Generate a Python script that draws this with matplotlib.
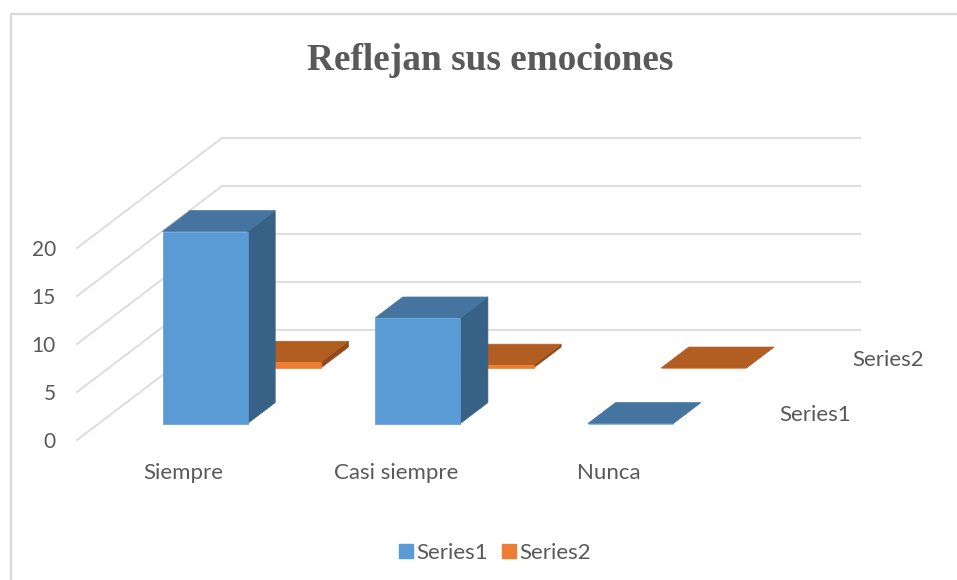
import matplotlib
matplotlib.use('Agg')
import matplotlib.pyplot as plt
from matplotlib.patches import Patch, Polygon

# Data
categories = ['Siempre', 'Casi siempre', 'Nunca']
series_names = ['Series1', 'Series2']
series1 = [20, 11, 0]
series2 = [0.6, 0.3, 0]
y_ticks = [0, 5, 10, 15, 20]

# Colours: front, top, side
blue = ('#5B9BD5', '#44749F', '#376286')
orange = ('#ED7D31', '#B25D22', '#8F4B1C')
grid_col = '#DEDEDE'
text_col = '#595959'
sans = ['Lato', 'DejaVu Sans']

# Oblique projection in figure pixels
X0, Y0 = 77, 440
CAT_W = 212.7
UNIT = 9.6
DX, DY = 145, -110
BAR_OFF, BAR_W = 0.30, 0.40
ROWS = [(0.15, 0.34), (0.655, 0.845)]


def proj(cat, val, depth):
    return (X0 + cat * CAT_W + depth * DX, Y0 - val * UNIT + depth * DY)


def draw_bar(ax, i, val, row, cols):
    x0, x1 = i + BAR_OFF, i + BAR_OFF + BAR_W
    d0, d1 = ROWS[row]
    front = [proj(x0, 0, d0), proj(x1, 0, d0), proj(x1, val, d0), proj(x0, val, d0)]
    side = [proj(x1, 0, d0), proj(x1, 0, d1), proj(x1, val, d1), proj(x1, val, d0)]
    top = [proj(x0, val, d0), proj(x1, val, d0), proj(x1, val, d1), proj(x0, val, d1)]
    for pts, col in [(side, cols[2]), (top, cols[1]), (front, cols[0])]:
        ax.add_patch(Polygon(pts, closed=True, facecolor=col, edgecolor=col, lw=0.5, zorder=3))


fig = plt.figure(figsize=(9.57, 5.8), dpi=100)
ax = fig.add_axes([0, 0, 1, 1])
ax.set_xlim(0, 957)
ax.set_ylim(580, 0)
ax.axis('off')

# chart border (only top and left are visible)
ax.plot([10.5, 10.5, 957], [580, 14, 14], color='#D9D9D9', lw=1.6)

# gridlines on side wall and back wall
for t in y_ticks:
    a = proj(0, t, 0)
    b = proj(0, t, 1)
    c = proj(3, t, 1)
    ax.plot([a[0], b[0], c[0]], [a[1], b[1], c[1]], color=grid_col, lw=1.5)
    ax.text(a[0] - 21, a[1] + 2, str(t), ha='right', va='center', color=text_col, fontsize=15, family=sans)

# back row first so the front row sits over it
for i, v in enumerate(series2):
    draw_bar(ax, i, v, 1, orange)
for i, v in enumerate(series1):
    draw_bar(ax, i, v, 0, blue)

for i, c in enumerate(categories):
    px, py = proj(i + 0.5, 0, 0)
    ax.text(px, py + 33, c, ha='center', va='center', color=text_col, fontsize=16, family=sans)

for row, name in enumerate(series_names):
    px, py = proj(3, 0, sum(ROWS[row]) / 2)
    ax.text(px + 28.5, py + 2, name, ha='left', va='center', color=text_col, fontsize=16, family=sans)

ax.text(490, 60, 'Reflejan sus emociones', ha='center', va='center', color=text_col,
        fontsize=26.8, fontweight='bold', family='Liberation Serif')

handles = [Patch(color=blue[0], label=series_names[0]), Patch(color=orange[0], label=series_names[1])]
leg = ax.legend(handles=handles, loc='center', bbox_to_anchor=(495, 553), bbox_transform=ax.transData,
                ncol=2, frameon=False, fontsize=16, labelcolor=text_col, handlelength=0.6, handleheight=0.6,
                handletextpad=0.15, columnspacing=0.65)
for t in leg.get_texts():
    t.set_family(sans)

plt.savefig('out.png', dpi=100)
